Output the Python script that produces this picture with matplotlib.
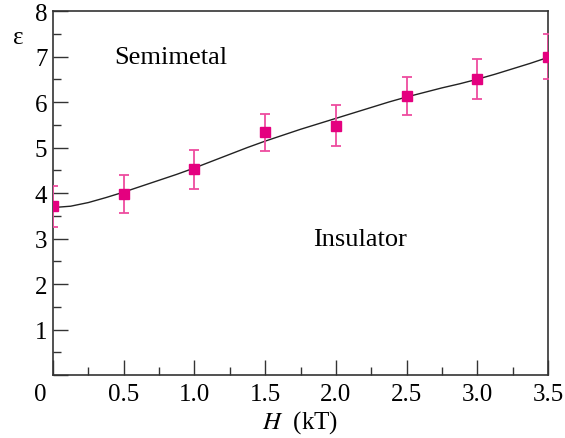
import matplotlib
matplotlib.use("Agg")
import matplotlib.pyplot as plt
from matplotlib.ticker import MultipleLocator

plt.rcParams['font.family'] = ['Liberation Serif', 'DejaVu Serif']
plt.rcParams['mathtext.fontset'] = 'stix'

# Measured points
H = [0.0, 0.5, 1.0, 1.5, 2.0, 2.5, 3.0, 3.5]
eps = [3.71, 3.98, 4.52, 5.33, 5.48, 6.14, 6.50, 7.00]
err = [0.45, 0.42, 0.43, 0.41, 0.45, 0.42, 0.44, 0.49]

# Boundary curve
H_curve = [0.0, 0.125, 0.25, 0.375, 0.5, 0.625, 0.75, 0.875, 1.0, 1.125, 1.25,
           1.375, 1.5, 1.625, 1.75, 1.875, 2.0, 2.125, 2.25, 2.375, 2.5,
           2.625, 2.75, 2.875, 3.0, 3.125, 3.25, 3.375, 3.5]
eps_curve = [3.68, 3.71, 3.79, 3.90, 4.02, 4.15, 4.28, 4.41, 4.55, 4.70, 4.85,
             5.00, 5.14, 5.27, 5.40, 5.52, 5.64, 5.76, 5.88, 6.00, 6.11,
             6.21, 6.31, 6.40, 6.50, 6.61, 6.73, 6.85, 6.98]

fig = plt.figure(figsize=(5.65, 4.39), dpi=100)
ax = fig.add_axes([53 / 565, 1 - 376 / 439, 495 / 565, 364 / 439])

ax.plot(H_curve, eps_curve, color='#222222', lw=1.0, zorder=2)
ax.errorbar(H, eps, yerr=err, fmt='s', color='#E4007F', ms=7, mec='#E4007F',
            ecolor='#EE4C9F', elinewidth=1.3, capsize=3.8, capthick=1.3, zorder=3)

ax.set_xlim(0, 3.5)
ax.set_ylim(0, 8)

ax.xaxis.set_major_locator(MultipleLocator(0.5))
ax.xaxis.set_minor_locator(MultipleLocator(0.25))
ax.yaxis.set_major_locator(MultipleLocator(1))
ax.yaxis.set_minor_locator(MultipleLocator(0.5))

ax.set_xticks([0, 0.5, 1.0, 1.5, 2.0, 2.5, 3.0, 3.5])
ax.set_xticklabels(['', '0.5', '1.0', '1.5', '2.0', '2.5', '3.0', '3.5'])
ax.set_yticks([0, 1, 2, 3, 4, 5, 6, 7, 8])
ax.set_yticklabels(['', '1', '2', '3', '4', '5', '6', '7', '8'])

ax.tick_params(which='both', direction='in', top=False, right=False,
               color='#333333', width=1.0, labelsize=18)
ax.tick_params(which='major', length=11)
ax.tick_params(which='minor', length=5.5)
ax.tick_params(axis='x', pad=6)
ax.tick_params(axis='y', pad=4)

for sp in ax.spines.values():
    sp.set_color('#333333')
    sp.set_linewidth(1.2)

# corner zero
ax.annotate('0', xy=(0, 0), xycoords='axes fraction', xytext=(-9, -6),
            textcoords='offset points', ha='center', va='top', fontsize=18)

ax.set_xlabel(r'$H$  (kT)', fontsize=18, labelpad=2)
fig.text(18 / 565, 1 - 38 / 439, 'ε', fontsize=18, ha='center', va='center')

ax.text(0.83, 7.0, 'Semimetal', fontsize=19, ha='center', va='center')
ax.text(2.17, 3.0, 'Insulator', fontsize=19, ha='center', va='center')

fig.savefig('out.png', dpi=100)
